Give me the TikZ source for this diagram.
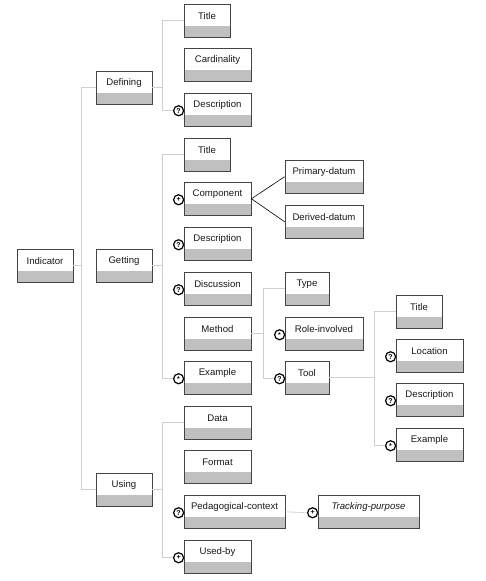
\documentclass[tikz,border=0pt]{standalone}
\usepackage{fontspec}
\setmainfont{Liberation Sans}
\definecolor{boxline}{HTML}{444444}
\definecolor{boxgrey}{HTML}{C0C0C0}
\definecolor{connc}{HTML}{CFCFCF}
\tikzset{
  ebox/.style={draw=boxline, line width=0.8pt, fill=white, minimum height=33.5pt, inner sep=0pt,
    path picture={\fill[boxgrey] (path picture bounding box.south west) rectangle ([yshift=11.5pt]path picture bounding box.south east);}},
  lbl/.style={font=\fontsize{9.6}{11}\selectfont, inner sep=0pt, text=black!90},
  occ/.style={circle, draw=black, line width=1.2pt, fill=white, minimum size=10pt, inner sep=0pt, font=\fontsize{7}{7}\selectfont\bfseries},
  conn/.style={draw=connc, line width=0.7pt},
  bconn/.style={draw=black, line width=0.6pt},
}
\newcommand\bx[5]{%
  \node[ebox, minimum width={#4-#2}] (#1) at ({(#2+#4)/2},{#3+16.75}) {};
  \node[lbl] (#1-t) at ([yshift=4.6pt]#1.center) {#5};}
\newcommand\oc[3]{\node[occ] (#1) at ([xshift=-5pt,yshift=-1pt]#2.west) {#3};}
\newcommand\myast{\raisebox{-0.28em}{*}}
\begin{document}
\begin{tikzpicture}[x=1pt,y=-1pt]
\useasboundingbox (0,0) rectangle (486,581);
% boxes
\bx{indicator}{17}{249}{73}{Indicator}
\bx{defining}{96}{71}{152}{Defining}
\bx{getting}{96}{249}{152}{Getting}
\bx{using}{96}{473}{152}{Using}
\bx{dtitle}{184}{4}{230}{Title}
\bx{card}{184}{48}{251}{Cardinality}
\bx{ddesc}{184}{93}{251}{Description}
\bx{gtitle}{184}{138}{230}{Title}
\bx{comp}{184}{182}{251}{Component}
\bx{gdesc}{184}{227}{251}{Description}
\bx{disc}{184}{272}{251}{Discussion}
\bx{method}{184}{317}{251}{Method}
\bx{gex}{184}{361}{251}{Example}
\bx{prim}{285}{160}{363}{Primary-datum}
\bx{deriv}{285}{205}{363}{Derived-datum}
\bx{type}{285}{272}{329}{Type}
\bx{role}{285}{317}{363}{Role-involved}
\bx{tool}{285}{361}{329}{Tool}
\bx{ttitle}{396}{295}{442}{Title}
\bx{loc}{396}{339}{463}{Location}
\bx{tdesc}{396}{383}{463}{Description}
\bx{tex}{396}{428}{463}{Example}
\bx{data}{184}{406}{251}{Data}
\bx{format}{184}{450}{251}{Format}
\bx{ped}{184}{495}{285}{Pedagogical-context}
\bx{used}{184}{540}{251}{Used-by}
\bx{track}{318}{495}{419}{\itshape Tracking-purpose}
% occurrence circles
\oc{o-ddesc}{ddesc}{?}
\oc{o-comp}{comp}{+}
\oc{o-gdesc}{gdesc}{?}
\oc{o-disc}{disc}{?}
\oc{o-gex}{gex}{\myast}
\oc{o-role}{role}{\myast}
\oc{o-tool}{tool}{?}
\oc{o-loc}{loc}{?}
\oc{o-tdesc}{tdesc}{?}
\oc{o-tex}{tex}{\myast}
\oc{o-ped}{ped}{?}
\oc{o-used}{used}{+}
\oc{o-track}{track}{+}
% connectors
\draw[conn] (indicator.east) -- ++(7.7,0) coordinate (tr0) |- (defining.west);
\draw[conn] (tr0) |- (using.west);
\draw[conn] (defining.east) -- ++(10.3,0) coordinate (tr1) |- (dtitle.west);
\draw[conn] (tr1) |- (o-ddesc.west);
\draw[conn] (getting.east) -- ++(10.3,0) coordinate (tr2) |- (gtitle.west);
\draw[conn] (tr2) |- (o-gex.west);
\draw[conn] (using.east) -- ++(10.3,0) coordinate (tr3) |- (data.west);
\draw[conn] (tr3) |- (o-used.west);
\draw[conn] (method.east) -- ++(11.7,0) coordinate (tr4) |- (type.west);
\draw[conn] (tr4) |- (o-tool.west);
\draw[conn] (tool.east) -- ++(45,0) coordinate (tr5) |- (ttitle.west);
\draw[conn] (tr5) |- (o-tex.west);
\draw[conn] (ped.east) -- (o-track.west);
\draw[bconn] (comp.east) -- (prim.west);
\draw[bconn] (comp.east) -- (deriv.west);
\end{tikzpicture}
\end{document}
